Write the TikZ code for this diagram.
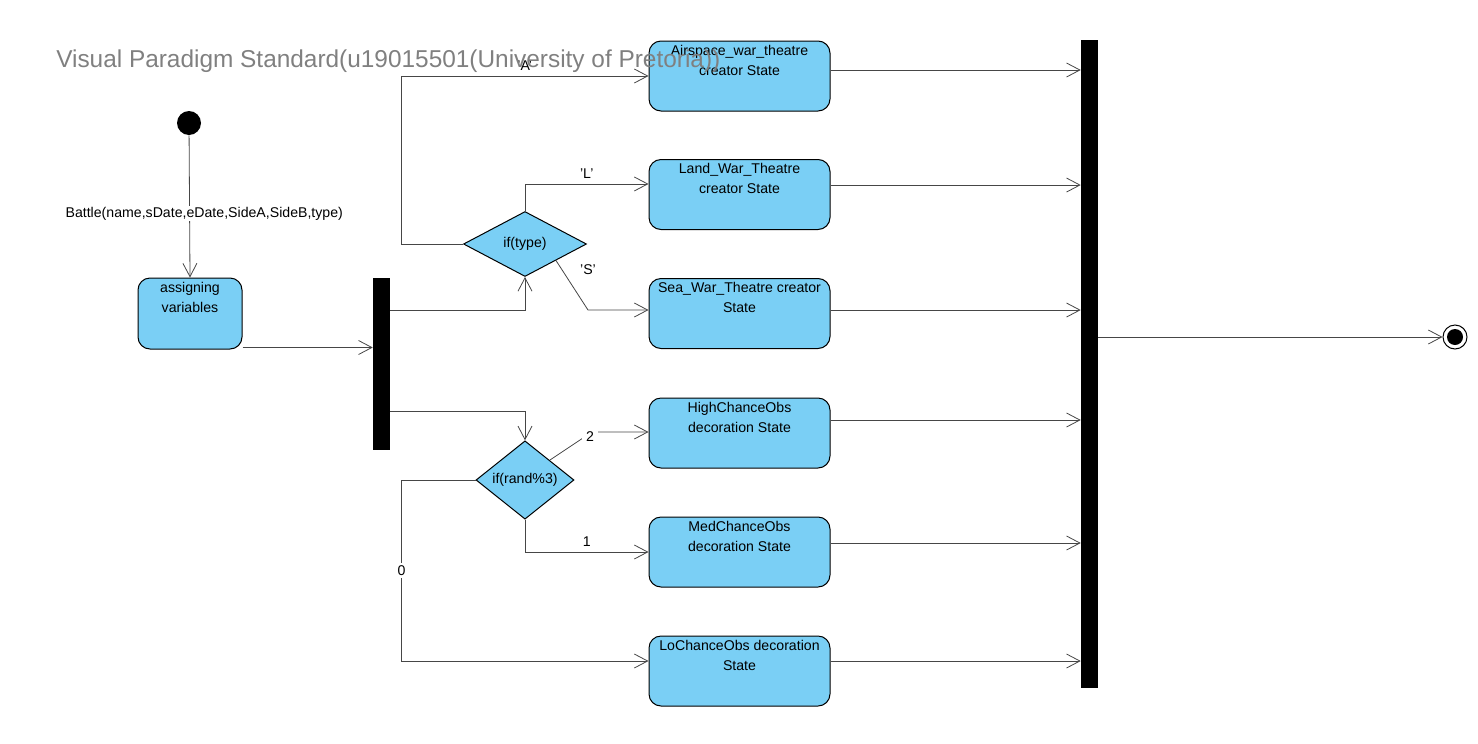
\documentclass[tikz,border=0pt]{standalone}
\usepackage{fontspec}
\setmainfont{Liberation Sans}
\usetikzlibrary{shapes.geometric,arrows.meta}
\definecolor{stateblue}{RGB}{122,207,245}
\definecolor{flowgray}{RGB}{70,70,70}
\definecolor{markgray}{RGB}{128,128,128}
\tikzset{
	statebox/.style={draw, line width=0.75pt, rounded corners=9pt, fill=stateblue, minimum width=135.75pt, minimum height=52.5pt},
	boxtext/.style={anchor=north, inner sep=0pt, yshift=-3pt, align=center, font=\fontsize{10.6}{15}\selectfont},
	choice/.style={draw, line width=0.75pt, diamond, fill=stateblue, inner sep=0pt, font=\fontsize{10.6}{12}\selectfont},
	bar/.style={fill=black, inner sep=0pt, minimum width=12.75pt},
	flow/.style={draw=flowgray, line width=0.6pt, -{Straight Barb[length=10pt,width=10.5pt,line width=0.6pt]}},
	guard/.style={font=\fontsize{10.6}{12}\selectfont, inner sep=1pt}
}
\begin{document}
\begin{tikzpicture}[x=0.75pt,y=0.75pt,yscale=-1,xscale=1]
	\useasboundingbox (0,0) rectangle (1478,743);
	
	% start and end
	\node [circle, fill=black, minimum size=18pt, inner sep=0pt] (init) at (189,123) {};
	\node [circle, draw, line width=0.75pt, minimum size=18pt, inner sep=0pt, path picture={\fill (path picture bounding box.center) circle (6pt);}] (final) at (1455,337) {};
	
	% states
	\node [statebox, minimum width=78pt, minimum height=53.25pt, label={[boxtext]north:assigning\\variables}] (assign) at (190,313.5) {};
	\node [statebox, label={[boxtext]north:Airspace\_war\_theatre\\creator State}] (air) at (739.5,76) {};
	\node [statebox, label={[boxtext]north:Land\_War\_Theatre\\creator State}] (land) at (739.5,194.5) {};
	\node [statebox, label={[boxtext]north:Sea\_War\_Theatre creator\\State}] (sea) at (739.5,313.5) {};
	\node [statebox, label={[boxtext]north:HighChanceObs\\decoration State}] (high) at (739.5,433) {};
	\node [statebox, label={[boxtext]north:MedChanceObs\\decoration State}] (med) at (739.5,552) {};
	\node [statebox, label={[boxtext]north:LoChanceObs decoration\\State}] (lo) at (739.5,671) {};
	
	% decisions
	\node [choice, minimum width=92.25pt, minimum height=48.75pt] (type) at (525,244) {if(type)};
	\node [choice, minimum width=73.5pt, minimum height=46.5pt] (rand) at (525,480) {if(rand\%3)};
	
	% fork and join
	\node [bar, minimum height=129pt] (fork) at (381.5,364) {};
	\node [bar, minimum height=486pt] (join) at (1089.5,364) {};
	
	\coordinate (s1) at (588,310);
	\coordinate (h1) at (592,432);
	
	% transitions
	\draw [flow] (init) -- node [guard, pos=0.55, xshift=11pt, fill=white] {Battle(name,sDate,eDate,SideA,SideB,type)} (assign.north);
	\draw [flow] ([yshift=-1.5pt]assign.south east) -- ([yshift=-1.5pt]assign.south east -| fork.west);
	\draw [flow] (fork.east) ++(0,-54) -| (type.south);
	\draw [flow] (fork.east) ++(0,47) -| (rand.north);
	
	\draw [flow] (type.west) -- ++(-62,0) |- node [guard, pos=0.75, above=3pt] {'A'} (air.west);
	\draw [flow] (type.north) |- node [guard, pos=0.75, above=3pt] {'L'} ([yshift=-7.9pt]land.west);
	\draw [flow] (type.south east) -- (s1) -- (s1 -| sea.west);
	\node [guard] at ([yshift=-30pt]s1) {'S'};
	
	\draw [flow] (rand.north east) -- (h1) -- (h1 -| high.west);
	\node [guard, fill=white, inner sep=3pt] at (590,437) {2};
	\draw [flow] (rand.south) |- node [guard, pos=0.75, above=3pt] {1} (med.west);
	\draw [flow] (rand.west) -- ++(-74,0) |- node [guard, pos=0.25, fill=white, inner sep=2pt] {0} ([yshift=-7.5pt]lo.west);
	
	\foreach \st/\dy in {air/-4.5, land/-7.1, sea/-2.6, high/-9.75, med/-6.75, lo/-7.5}
		\draw [flow] ([yshift=\dy pt]\st.east) -- ([yshift=\dy pt]\st.east -| join.west);
	\draw [flow] (join.east) ++(0,-27) -- (final);
	
	% watermark
	\node [anchor=west, inner sep=0pt, text=markgray, font=\fontsize{18.3}{22}\selectfont] (mark) at (56,61) {Visual Paradigm Standard(u19015501(University of Pretoria))};
	
\end{tikzpicture}
\end{document}
